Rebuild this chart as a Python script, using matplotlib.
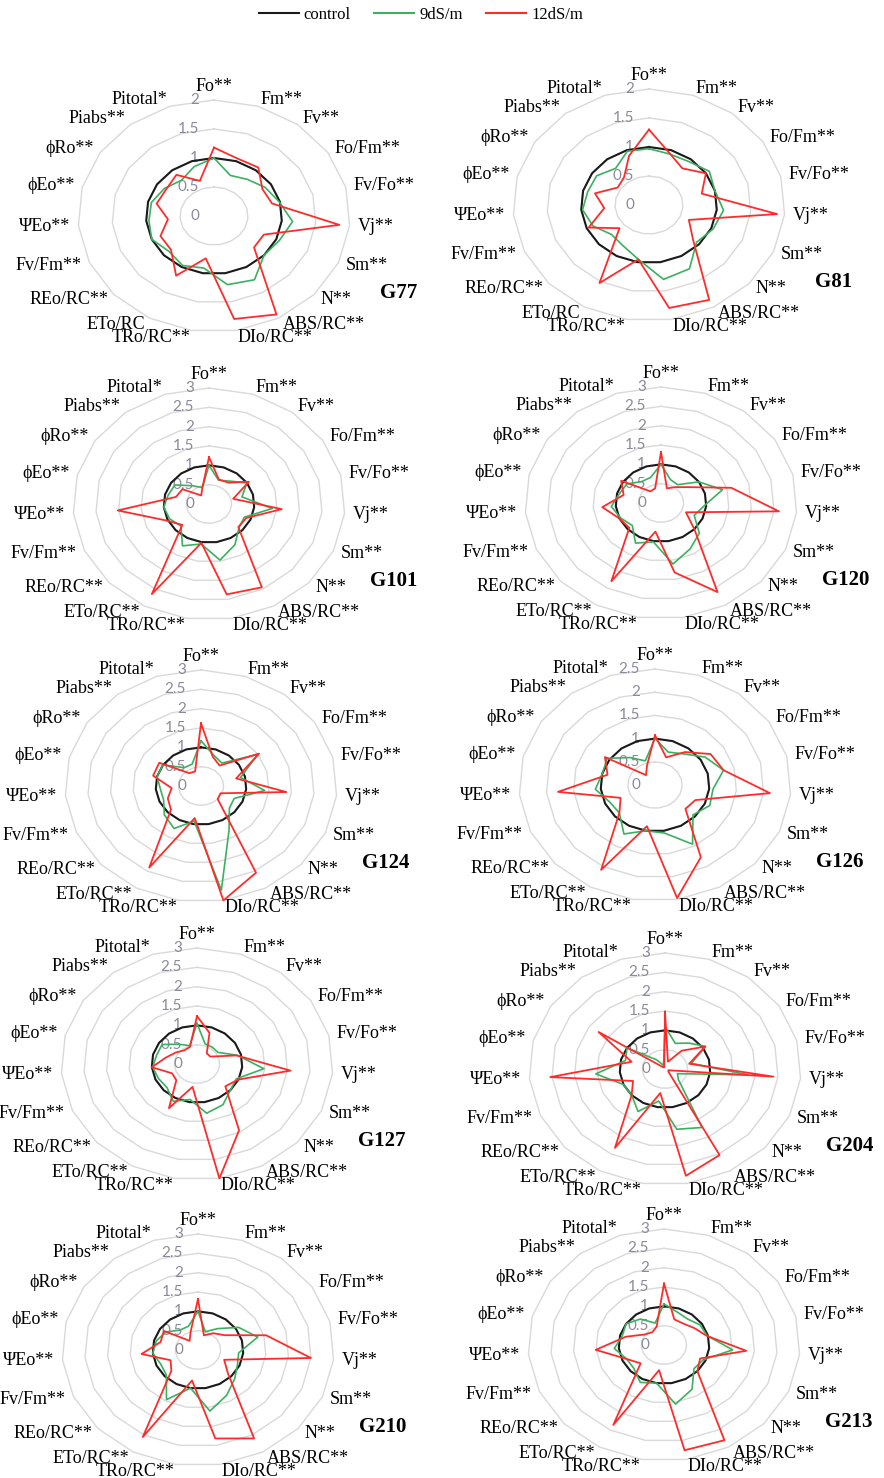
import numpy as np
import matplotlib
matplotlib.use('Agg')
import matplotlib.pyplot as plt
from matplotlib.lines import Line2D

# ---------------- data ----------------
params = ['Fo**', 'Fm**', 'Fv**', 'Fo/Fm**', 'Fv/Fo**', 'Vj**', 'Sm**', 'N**',
          'ABS/RC**', 'DIo/RC**', 'TRo/RC**', 'ETo/RC**', 'REo/RC**', 'Fv/Fm**',
          'ΨEo**', 'ϕEo**', 'ϕRo**', 'Piabs**', 'Pitotal*']
params_first_row = ['Fo**', 'Fm**', 'Fv**', 'Fo/Fm**', 'Fv/Fo**', 'Vj**', 'Sm**', 'N**',
                    'ABS/RC**', 'DIo/RC**', 'TRo/RC**', 'ETo/RC', 'REo/RC**', 'Fv/Fm**',
                    'ΨEo**', 'ϕEo**', 'ϕRo**', 'Piabs**', 'Pitotal*']

genotypes = ['G77', 'G81', 'G101', 'G120', 'G124', 'G126', 'G127', 'G204', 'G210', 'G213']
axis_max = [2, 2, 3, 3, 3, 2.5, 3, 3, 3, 3]

control = [1.0, 1.0, 1.0, 1.0, 1.0, 1.0, 1.0, 1.0, 1.0, 1.0,
           1.0, 1.0, 1.0, 1.0, 1.0, 1.0, 1.0, 1.0, 1.0]

g77_9 = [1.0, 0.74, 0.8, 0.9, 0.99, 1.16, 1.05, 1.0, 1.25, 1.2, 0.91, 0.97, 0.9, 1.0, 0.96, 0.95, 0.87, 0.78, 0.9]
g77_12 = [1.18, 1.05, 1.06, 0.85, 0.88, 1.85, 0.8, 0.8, 1.93, 1.8, 0.74, 1.17, 0.86, 0.86, 0.68, 0.87, 0.84, 0.9, 0.64]

g81_9 = [0.97, 0.93, 0.95, 1.06, 1.0, 1.1, 1.03, 0.95, 1.25, 1.3, 0.95, 0.8, 0.75, 0.9, 0.98, 0.93, 0.92, 0.8, 0.98]
g81_12 = [1.3, 0.94, 0.8, 1.0, 0.8, 1.89, 0.64, 0.88, 1.86, 1.8, 0.95, 1.53, 0.59, 0.97, 0.66, 0.82, 0.55, 0.6, 0.9]

g101_9 = [1.0, 0.65, 0.75, 1.0, 0.75, 1.4, 0.85, 0.9, 1.2, 1.47, 1.05, 1.23, 0.84, 0.95, 1.0, 0.93, 0.9, 0.6, 0.45]
g101_12 = [1.21, 0.67, 0.7, 1.05, 0.55, 1.61, 0.9, 0.88, 2.45, 2.37, 1.02, 2.65, 0.8, 1.05, 2.02, 0.75, 0.7, 0.28, 0.45]

g120_9 = [1.0, 0.64, 0.6, 1.0, 1.4, 0.95, 0.8, 1.15, 1.35, 1.6, 1.02, 1.18, 0.86, 0.97, 1.1, 0.95, 0.9, 0.7, 0.7]
g120_12 = [1.32, 0.4, 0.52, 0.75, 1.6, 2.61, 0.6, 1.0, 2.62, 1.82, 0.75, 2.3, 0.95, 1.0, 1.3, 0.85, 1.05, 0.38, 0.4]

g124_9 = [1.17, 0.85, 0.75, 1.5, 0.9, 1.41, 0.8, 0.85, 1.3, 2.73, 0.92, 1.25, 1.1, 0.9, 0.9, 1.0, 1.0, 0.6, 0.6]
g124_12 = [1.62, 0.8, 0.67, 1.53, 0.8, 1.89, 0.47, 0.5, 2.55, 3.0, 0.84, 2.4, 0.9, 0.8, 0.65, 1.09, 1.1, 0.42, 0.4]

g126_9 = [1.0, 0.75, 0.85, 1.1, 1.3, 1.07, 1.1, 0.95, 1.45, 1.05, 1.0, 1.2, 0.89, 0.91, 1.1, 1.0, 1.05, 0.75, 0.55]
g126_12 = [1.07, 0.63, 0.9, 1.22, 1.3, 2.12, 0.81, 0.76, 1.77, 2.47, 0.9, 2.08, 0.89, 0.69, 1.79, 0.9, 1.1, 0.27, 0.45]

g127_9 = [1.05, 0.55, 0.55, 0.55, 0.92, 1.48, 0.95, 1.0, 1.2, 1.29, 0.93, 1.1, 0.9, 0.93, 0.98, 0.92, 0.92, 0.65, 0.5]
g127_12 = [1.24, 0.85, 0.35, 0.35, 0.9, 2.07, 1.0, 0.85, 1.95, 3.0, 0.6, 1.3, 0.62, 0.6, 1.0, 0.7, 0.55, 0.45, 0.47]

g204_9 = [1.1, 0.7, 0.85, 1.07, 0.6, 1.84, 0.3, 0.4, 1.72, 1.58, 0.84, 1.25, 1.0, 1.0, 1.53, 0.9, 1.0, 0.3, 0.1]
g204_12 = [1.48, 0.2, 0.6, 1.06, 0.55, 2.4, 0.08, 0.1, 2.53, 2.8, 0.63, 2.32, 1.0, 0.77, 2.54, 0.76, 1.75, 0.05, 0.05]

g210_9 = [1.0, 0.5, 0.7, 1.07, 1.36, 0.9, 0.95, 1.1, 1.33, 1.6, 1.0, 1.46, 0.95, 0.9, 1.0, 0.95, 0.85, 0.65, 0.65]
g210_12 = [1.32, 0.4, 0.55, 0.7, 1.55, 2.5, 0.63, 0.9, 2.6, 2.32, 0.8, 2.56, 0.8, 0.66, 1.25, 0.85, 0.9, 0.3, 0.5]

g213_9 = [1.06, 0.9, 0.85, 0.95, 0.98, 1.52, 0.95, 0.9, 1.3, 1.55, 1.0, 1.1, 0.9, 0.9, 1.1, 0.95, 1.0, 0.85, 0.6]
g213_12 = [1.59, 0.7, 0.7, 0.8, 0.97, 1.82, 0.87, 1.0, 2.8, 2.76, 0.66, 2.35, 0.7, 0.9, 1.51, 0.87, 0.5, 0.42, 0.5]

series_9 = [g77_9, g81_9, g101_9, g120_9, g124_9, g126_9, g127_9, g204_9, g210_9, g213_9]
series_12 = [g77_12, g81_12, g101_12, g120_12, g124_12, g126_12, g127_12, g204_12, g210_12, g213_12]

# ---------------- layout ----------------
W, H = 884, 1478
centers = [(214, 216), (649, 205), (209, 504), (661, 503), (201, 786),
           (655, 785), (197, 1064), (665, 1069), (198, 1350), (664, 1345)]
AX_W, AX_H = 272, 232

C_CTRL = '#1a1a1a'
C_9 = '#3cb060'
C_12 = '#ff2b2b'
C_GRID = '#d9d9d9'
C_TICK = '#8a8a9a'
SERIF = ['Liberation Serif', 'DejaVu Serif']

fig = plt.figure(figsize=(W / 100, H / 100), dpi=100)
fig.patch.set_facecolor('white')

n = len(params)
theta = np.arange(n) * 2 * np.pi / n
theta_c = np.append(theta, theta[0])


def closed(v):
    v = list(v)
    return v + v[:1]


for k, g in enumerate(genotypes):
    cx, cy = centers[k]
    rect = [(cx - AX_W / 2) / W, 1 - (cy + AX_H / 2) / H, AX_W / W, AX_H / H]
    ax = fig.add_axes(rect, projection='polar')
    ax.set_aspect('auto')
    ax.set_theta_zero_location('N')
    ax.set_theta_direction(-1)
    rmax = axis_max[k]
    ax.set_ylim(0, rmax)
    ax.set_xticks([])
    ax.set_yticks([])
    ax.grid(False)
    ax.spines['polar'].set_visible(False)
    ax.patch.set_alpha(0)

    rings = np.arange(0.5, rmax + 0.01, 0.5)
    for r in rings:
        ax.plot(theta_c, [r] * (n + 1), color=C_GRID, lw=1.0, zorder=1, clip_on=False)
    for r in np.arange(0, rmax + 0.01, 0.5):
        ax.annotate(f'{r:g}', xy=(0, r), xytext=(-15, 0), textcoords='offset pixels',
                    ha='right', va='center', color=C_TICK, fontsize=11,
                    family='Lato', zorder=2, annotation_clip=False)

    ax.plot(theta_c, closed(control), color=C_CTRL, lw=1.5, zorder=3, clip_on=False)
    ax.plot(theta_c, closed(series_9[k]), color=C_9, lw=1.2, zorder=4, clip_on=False)
    ax.plot(theta_c, closed(series_12[k]), color=C_12, lw=1.3, zorder=5, clip_on=False)

    labels = params_first_row if k < 2 else params
    for i, lab in enumerate(labels):
        s = np.sin(theta[i])
        if i == 0:
            ax.text(theta[i], rmax * 1.04, lab, ha='center', va='bottom',
                    fontsize=13, family=SERIF, clip_on=False)
            continue
        ha = 'left' if s > 0 else 'right'
        ax.text(theta[i], rmax * 1.06, lab, ha=ha, va='center',
                fontsize=13, family=SERIF, clip_on=False)

    ax.annotate(g, xy=(0.5, 0.5), xycoords='axes fraction', xytext=(185, -77),
                textcoords='offset pixels', ha='center', va='center',
                fontsize=15, fontweight='bold', family=SERIF)

handles = [Line2D([0], [0], color=C_CTRL, lw=1.5),
           Line2D([0], [0], color=C_9, lw=1.5),
           Line2D([0], [0], color=C_12, lw=1.5)]
fig.legend(handles, ['control', '9dS/m', '12dS/m'], loc='center',
           bbox_to_anchor=(0.476, 1 - 15 / H), ncol=3, frameon=False,
           prop={'family': SERIF, 'size': 12}, handlelength=2.4,
           columnspacing=1.4, handletextpad=0.3)

fig.savefig('out.png', dpi=100, facecolor='white')
